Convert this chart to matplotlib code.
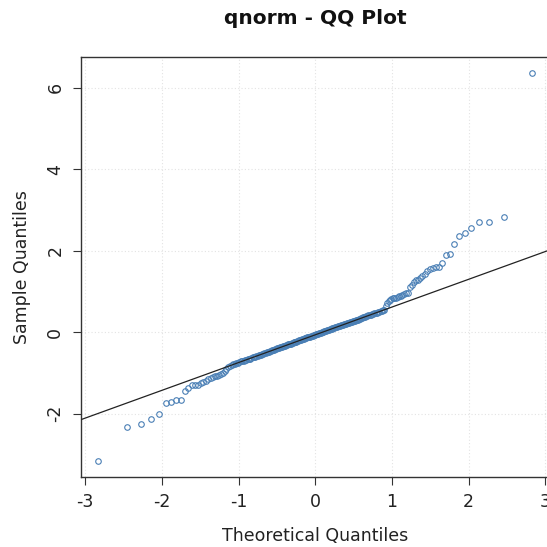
import statistics
import numpy as np
import matplotlib
matplotlib.use("Agg")
import matplotlib.pyplot as plt

plt.rcParams["axes.unicode_minus"] = False

# Sorted sample values
sample = [
    -3.17, -2.33, -2.25, -2.14, -2.00, -1.75, -1.71, -1.67, -1.66, -1.44,
    -1.36, -1.31, -1.30, -1.29, -1.26, -1.22, -1.19, -1.16, -1.12, -1.10,
    -1.08, -1.07, -1.05, -1.03, -1.00, -0.96, -0.90, -0.86, -0.83, -0.81,
    -0.79, -0.78, -0.76, -0.75, -0.73, -0.72, -0.71, -0.70, -0.69, -0.68,
    -0.67, -0.66, -0.65, -0.64, -0.62, -0.61, -0.60, -0.59, -0.58, -0.57,
    -0.56, -0.55, -0.54, -0.53, -0.52, -0.51, -0.50, -0.49, -0.48, -0.47,
    -0.46, -0.45, -0.44, -0.43, -0.42, -0.41, -0.40, -0.39, -0.38, -0.37,
    -0.36, -0.355, -0.345, -0.34, -0.33, -0.32, -0.31, -0.30, -0.295, -0.285,
    -0.28, -0.27, -0.26, -0.25, -0.245, -0.235, -0.23, -0.22, -0.21, -0.20,
    -0.195, -0.185, -0.18, -0.17, -0.165, -0.155, -0.15, -0.14, -0.13, -0.125,
    -0.115, -0.11, -0.10, -0.09, -0.085, -0.075, -0.07, -0.06, -0.05, -0.045,
    -0.035, -0.03, -0.02, -0.01, -0.005, 0.005, 0.01, 0.02, 0.03, 0.035,
    0.045, 0.05, 0.06, 0.07, 0.075, 0.085, 0.09, 0.10, 0.11, 0.115,
    0.125, 0.13, 0.14, 0.15, 0.16, 0.165, 0.175, 0.18, 0.19, 0.20,
    0.21, 0.215, 0.225, 0.235, 0.24, 0.25, 0.26, 0.27, 0.28, 0.285,
    0.295, 0.305, 0.31, 0.32, 0.33, 0.34, 0.35, 0.36, 0.37, 0.38,
    0.39, 0.40, 0.41, 0.42, 0.43, 0.44, 0.45, 0.46, 0.47, 0.48,
    0.49, 0.50, 0.51, 0.52, 0.535, 0.55, 0.64, 0.72, 0.77, 0.80,
    0.82, 0.83, 0.84, 0.85, 0.86, 0.88, 0.90, 0.91, 0.93, 0.95,
    0.97, 1.12, 1.17, 1.23, 1.27, 1.29, 1.32, 1.39, 1.43, 1.50,
    1.56, 1.58, 1.59, 1.60, 1.69, 1.90, 1.91, 2.17, 2.35, 2.44,
    2.55, 2.70, 2.70, 2.84, 6.37,
]

x_ticks = [-3, -2, -1, 0, 1, 2, 3]
y_ticks = [-2, 0, 2, 4, 6]
title = "qnorm - QQ Plot"
x_label = "Theoretical Quantiles"
y_label = "Sample Quantiles"

# Theoretical normal quantiles (R ppoints, n > 10)
nd = statistics.NormalDist()
n = len(sample)
theo = np.array([nd.inv_cdf((i - 0.5) / n) for i in range(1, n + 1)])
samp = np.array(sorted(sample))

# qqline through the quartiles
q_s = np.quantile(samp, [0.25, 0.75])
q_t = np.array([nd.inv_cdf(0.25), nd.inv_cdf(0.75)])
slope = (q_s[1] - q_s[0]) / (q_t[1] - q_t[0])
intercept = q_s[0] - slope * q_t[0]

fig = plt.figure(figsize=(5.47, 5.47), dpi=100)
ax = fig.add_axes([0.148, 0.1285, 0.857, 0.7667])

def ext(a):
    lo, hi = float(np.min(a)), float(np.max(a))
    d = (hi - lo) * 0.04
    return lo - d, hi + d

ax.set_xlim(*ext(theo))
ax.set_ylim(*ext(samp))

ax.set_xticks(x_ticks)
ax.set_yticks(y_ticks)
ax.grid(True, color="#e3e3e3", linestyle=(0, (1, 2)), linewidth=0.8)
ax.set_axisbelow(True)

ax.plot(theo, samp, linestyle="none", marker="o", markersize=4,
        markerfacecolor="none", markeredgecolor="#4a7fb5",
        markeredgewidth=0.8, zorder=3)
ax.axline((0, intercept), slope=slope, color="#222222", linewidth=0.9, zorder=4)

for s in ax.spines.values():
    s.set_color("#333333")
    s.set_linewidth(1.0)

ax.tick_params(axis="both", direction="out", length=6, width=0.8,
               color="#333333", labelsize=12.5, labelcolor="#222222", pad=6)
for lab in ax.get_yticklabels():
    lab.set_rotation(90)
    lab.set_va("center")

ax.set_xlabel(x_label, fontsize=12.5, color="#222222", labelpad=11)
ax.set_ylabel(y_label, fontsize=12.5, color="#222222", labelpad=11)
fig.text(0.576, 0.966, title, ha="center", va="center",
         fontsize=14.5, fontweight="bold", color="#111111")

fig.savefig("out.png", dpi=100)
